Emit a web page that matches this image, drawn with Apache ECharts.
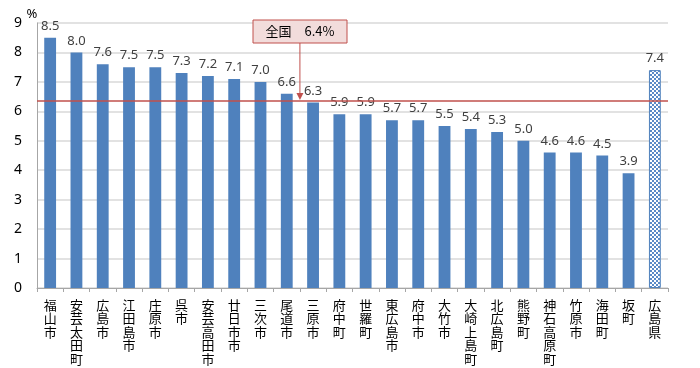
<!DOCTYPE html>
<html><head><meta charset="utf-8">
<script src="https://cdn.jsdelivr.net/npm/echarts@6/dist/echarts.min.js"></script>
<style>html,body{margin:0;padding:0;background:#fff}#c{width:700px;height:368px}</style>
</head><body><div id="c"></div>
<script>
const categories = ["福山市","安芸太田町","広島市","江田島市","庄原市","呉市","安芸高田市","廿日市市","三次市","尾道市","三原市","府中町","世羅町","東広島市","府中市","大竹市","大崎上島町","北広島町","熊野町","神石高原町","竹原市","海田町","坂町","広島県"];
const values = [8.5,8.0,7.6,7.5,7.5,7.3,7.2,7.1,7.0,6.6,6.3,5.9,5.9,5.7,5.7,5.5,5.4,5.3,5.0,4.6,4.6,4.5,3.9,7.4];
const yTicks = [0,1,2,3,4,5,6,7,8,9];
const nationalValue = 6.35;
const nationalLabel = "全国　6.4%";
const unitLabel = "%";

const pc = document.createElement('canvas');
pc.width = 4; pc.height = 4;
const g = pc.getContext('2d');
g.fillStyle = '#ffffff'; g.fillRect(0,0,4,4);
g.fillStyle = '#5b8ac6';
g.fillRect(0,0,2,2); g.fillRect(2,2,2,2);

const jp = '"Noto Sans CJK JP", sans-serif';
const num = '"Noto Sans", "DejaVu Sans", sans-serif';

const chart = echarts.init(document.getElementById('c'));
chart.setOption({
  animation:false,
  grid:{left:37,right:32,top:23,bottom:80},
  xAxis:{type:'category',data:categories,
    axisLine:{lineStyle:{color:'#a6a6a6'}},
    axisTick:{show:true,length:4,lineStyle:{color:'#a6a6a6'}},
    axisLabel:{interval:0,color:'#000',fontFamily:jp,fontSize:13,lineHeight:13.5,verticalAlign:'top',margin:10,
      formatter:v=>v.split('').join('\n')}},
  yAxis:{type:'value',min:0,max:9,interval:1,
    axisLine:{show:true,lineStyle:{color:'#a6a6a6'}},
    splitLine:{lineStyle:{color:'#d9d9d9',width:1.5}},
    axisLabel:{color:'#000',fontFamily:num,fontSize:14,margin:15,formatter:v=>yTicks.includes(v)?String(v):''}},
  series:[{type:'bar',barWidth:'45%',
    data:values.map((v,i)=>i===values.length-1?{value:v,itemStyle:{color:{image:pc,repeat:'repeat'},borderColor:'#4f81bd',borderWidth:1}}:v),
    itemStyle:{color:'#4f81bd'},
    label:{show:true,position:'top',distance:5,color:'#404040',fontFamily:num,fontSize:13,formatter:p=>p.value.toFixed(1)},
    markLine:{symbol:'none',silent:true,label:{show:false},
      lineStyle:{color:'#c0504d',width:1.5,type:'solid'},data:[{yAxis:nationalValue}]}
  }]
});

const ax = (chart.convertToPixel({xAxisIndex:0},'尾道市') + chart.convertToPixel({xAxisIndex:0},'三原市'))/2;
const ay = chart.convertToPixel({yAxisIndex:0},nationalValue) - 1;
chart.setOption({graphic:[
  {type:'text',style:{x:32,y:14,text:unitLabel,fill:'#000',font:'13px '+num,textAlign:'center',textVerticalAlign:'middle'}},
  {type:'rect',shape:{x:253,y:20,width:94,height:23},style:{fill:'#f2dcdb',stroke:'#c0504d',lineWidth:1}},
  {type:'text',style:{x:300,y:31.5,text:nationalLabel,fill:'#000',font:'13px '+jp,textAlign:'center',textVerticalAlign:'middle'}},
  {type:'line',shape:{x1:ax,y1:43,x2:ax,y2:ay-5},style:{stroke:'#c0504d',lineWidth:1}},
  {type:'polygon',shape:{points:[[ax-3.5,ay-7],[ax+3.5,ay-7],[ax,ay]]},style:{fill:'#c0504d'}}
]});
</script></body></html>
